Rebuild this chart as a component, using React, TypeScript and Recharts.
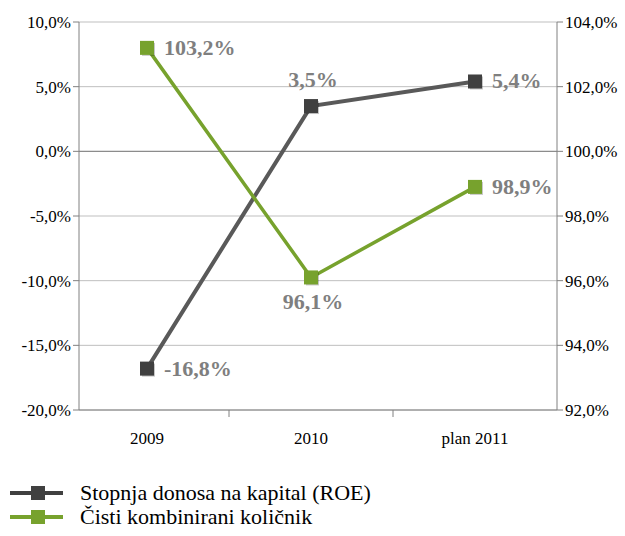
import { LineChart, Line, XAxis, YAxis, CartesianGrid, ReferenceLine } from "recharts";

const categories = ["2009", "2010", "plan 2011"];
const roe = [-16.8, 3.5, 5.4];
const combinedRatio = [103.2, 96.1, 98.9];
const leftTicks = [-20, -15, -10, -5, 0, 5, 10];
const rightTicks = [92, 94, 96, 98, 100, 102, 104];

const data = categories.map((cat, i) => ({
  cat,
  roe: roe[i],
  combined: combinedRatio[i],
}));

const FONT = "Liberation Serif";
const DARK = "#404040";
const GREEN = "#77a22d";
const BAND = 164;

const pct = (v: number) => v.toFixed(1).replace(".", ",") + "%";

const SquareDot = ({ cx, cy, fill }: any) => {
  if (cx == null || cy == null) return null;
  return (
    <g>
      <rect x={cx - 5} y={cy - 5} width={13} height={13} fill="rgba(0,0,0,0.22)" />
      <rect x={cx - 7} y={cy - 7} width={14} height={14} fill={fill} />
    </g>
  );
};

const makeLabel = (positions: string[]) => (props: any) => {
  const { x, y, value, index } = props;
  const pos = positions[index];
  let tx = x + 17;
  let ty = y + 7;
  let anchor: "start" | "middle" = "start";
  if (pos === "top") {
    tx = x + 2;
    ty = y - 19;
    anchor = "middle";
  } else if (pos === "bottom") {
    tx = x + 2;
    ty = y + 32;
    anchor = "middle";
  }
  return (
    <text
      x={tx}
      y={ty}
      textAnchor={anchor}
      fill="#7f7f7f"
      fontFamily={FONT}
      fontWeight="bold"
      fontSize={22}
    >
      {pct(value)}
    </text>
  );
};

const CatTick = ({ x, y, payload, index }: any) => (
  <g>
    {index < 2 && (
      <line x1={x + BAND / 2} y1={y - 2} x2={x + BAND / 2} y2={y + 5} stroke="#808080" />
    )}
    <text x={x} y={y + 32} textAnchor="middle" fill="#000" fontFamily={FONT} fontSize={17}>
      {payload.value}
    </text>
  </g>
);

const LegendRow = ({ color, label }: { color: string; label: string }) => (
  <div style={{ display: "flex", alignItems: "center", height: 24 }}>
    <svg width={66} height={16}>
      <line x1={10} y1={8} x2={63} y2={8} stroke={color} strokeWidth={4} />
      <rect x={31} y={1} width={14} height={14} fill={color} />
    </svg>
    <span style={{ fontFamily: FONT, fontSize: 22, lineHeight: "24px", color: "#000", marginLeft: 14 }}>
      {label}
    </span>
  </div>
);

export default function App() {
  return (
    <div style={{ position: "absolute", left: 0, top: 0, width: 625, height: 536, background: "#fff" }}>
      <LineChart
        width={625}
        height={450}
        data={data}
        margin={{ top: 22, right: 0, bottom: 0, left: 0 }}
      >
        <CartesianGrid yAxisId="left" vertical={false} stroke="#bfbfbf" />
        <XAxis
          dataKey="cat"
          height={40}
          padding={{ left: 68, right: 82 }}
          axisLine={{ stroke: "#808080" }}
          tickLine={false}
          tickSize={0}
          tick={<CatTick />}
          interval={0}
        />
        <YAxis
          yAxisId="left"
          width={79}
          domain={[-20, 10]}
          ticks={leftTicks}
          tickFormatter={pct}
          axisLine={{ stroke: "#808080" }}
          tickLine={{ stroke: "#808080" }}
          tickSize={6}
          tick={{ fill: "#000", fontFamily: FONT, fontSize: 17 }}
        />
        <YAxis
          yAxisId="right"
          orientation="right"
          width={68}
          domain={[92, 104]}
          ticks={rightTicks}
          tickFormatter={pct}
          axisLine={{ stroke: "#808080" }}
          tickLine={{ stroke: "#808080" }}
          tickSize={6}
          tick={{ fill: "#000", fontFamily: FONT, fontSize: 17 }}
        />
        <ReferenceLine yAxisId="left" y={0} stroke="#808080" />
        <Line
          yAxisId="left"
          dataKey="roe"
          stroke="#595959"
          strokeWidth={4}
          dot={<SquareDot fill={DARK} />}
          label={makeLabel(["right", "top", "right"])}
          isAnimationActive={false}
        />
        <Line
          yAxisId="right"
          dataKey="combined"
          stroke={GREEN}
          strokeWidth={3.5}
          dot={<SquareDot fill={GREEN} />}
          label={makeLabel(["right", "bottom", "right"])}
          isAnimationActive={false}
        />
      </LineChart>
      <div style={{ position: "absolute", left: 0, top: 481 }}>
        <LegendRow color={DARK} label="Stopnja donosa na kapital (ROE)" />
        <LegendRow color={GREEN} label="Čisti kombinirani količnik" />
      </div>
    </div>
  );
}
